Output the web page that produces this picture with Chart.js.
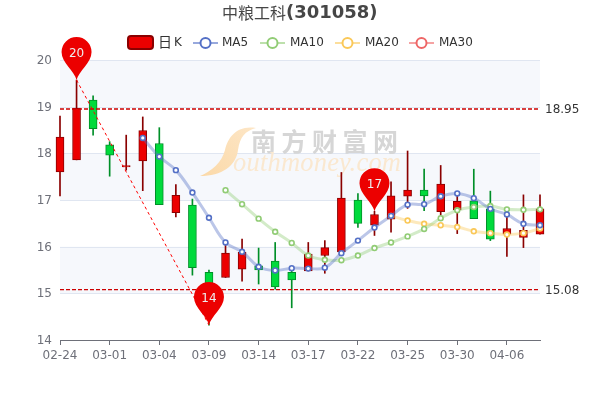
<!DOCTYPE html>
<html>
<head>
<meta charset="utf-8">
<style>
  html, body { margin: 0; padding: 0; background: #fff; }
  canvas { display: block; }
</style>
<script src="https://cdn.jsdelivr.net/npm/chart.js@4/dist/chart.umd.min.js"></script>
</head>
<body>
<canvas id="chart" width="600" height="400"></canvas>
<script>
const categories = ['02-24','02-25','02-28','03-01','03-02','03-03','03-04','03-07','03-08','03-09',
  '03-10','03-11','03-14','03-15','03-16','03-17','03-18','03-21','03-22','03-23',
  '03-24','03-25','03-28','03-29','03-30','03-31','04-01','04-06','04-07','04-08'];

const opens = [17.6,17.86,19.14,18.18,17.71,17.84,18.21,16.73,16.89,15.45,
  15.34,15.52,15.59,15.69,15.45,15.48,15.81,15.89,17.0,16.46,
  16.59,17.08,17.21,16.75,16.79,16.98,16.81,16.27,16.2,16.27];
const closes = [18.35,18.97,18.53,17.96,17.74,18.49,16.9,17.1,15.55,14.9,
  15.86,15.88,15.5,15.14,15.29,15.84,15.98,17.04,16.5,16.69,
  17.09,17.21,17.09,17.34,16.97,16.6,16.16,16.39,16.35,16.81];
const lows = [17.09,17.86,18.39,17.51,17.64,17.2,16.9,16.64,15.39,14.32,
  15.34,15.26,15.2,15.09,14.69,15.48,15.43,15.89,16.41,16.24,
  16.31,16.82,16.77,16.68,16.28,16.6,16.13,15.79,15.98,16.27];
const highs = [18.8,19.57,19.23,18.25,18.39,18.78,18.55,17.33,17.02,15.5,
  16.04,16.16,15.97,16.09,15.47,16.09,16.13,17.59,17.14,16.76,
  17.39,18.05,17.66,17.74,17.14,17.66,17.19,16.63,17.11,17.11];

const ma5 = [null,null,null,null,null,18.33,17.93,17.64,17.16,16.62,
  16.09,15.89,15.57,15.49,15.54,15.53,15.55,15.86,16.13,16.41,
  16.66,16.9,16.91,17.08,17.14,17.04,16.81,16.69,16.49,16.46];
const ma10 = [null,null,null,null,null,null,null,null,null,null,
  17.21,16.91,16.6,16.32,16.08,15.81,15.72,15.71,15.81,15.97,
  16.09,16.22,16.38,16.61,16.78,16.85,16.87,16.8,16.79,16.8];
const ma20 = [null,null,null,null,null,null,null,null,null,null,
  null,null,null,null,null,null,null,null,null,null,
  16.66,16.56,16.49,16.46,16.42,16.33,16.29,16.26,16.29,16.39];
const ma30 = categories.map(() => null);

const markLevels = [18.95, 15.08];
const trendIndex = [1, 9];
const trendValues = [19.57, 14.32];
const pinIndex = [1, 9, 19];
const pinValues = [19.57, 14.32, 16.76];
const pinTexts = ['20', '14', '17'];
const yTicks = [14, 15, 16, 17, 18, 19, 20];

const UP = '#ec0000', UP_DARK = '#8a0000', DOWN = '#00da3c', DOWN_DARK = '#008f28';
const isUp = i => closes[i] >= opens[i];
const fillColors = categories.map((c, i) => isUp(i) ? UP : DOWN);
const darkColors = categories.map((c, i) => isUp(i) ? UP_DARK : DOWN_DARK);

const MA_COLORS = { MA5: '#5470c6', MA10: '#91cc75', MA20: '#fac858', MA30: '#ee6666' };

function maDataset(name, values) {
  const color = MA_COLORS[name];
  return {
    type: 'line', label: name, data: values, order: 1,
    borderColor: color + '66', borderWidth: 3, tension: 0.4,
    pointRadius: 2.4, pointBorderWidth: 1.6, pointBorderColor: color,
    pointBackgroundColor: '#fff', clip: false,
  };
}

function markDataset(level) {
  return {
    type: 'line', data: categories.map(() => level), order: 3,
    borderColor: '#cc0000', borderWidth: 1.4, borderDash: [4, 2], pointRadius: 0,
  };
}

// bands behind the candles, and the faint site logo
const backdrop = {
  id: 'backdrop',
  beforeDatasetsDraw(chart) {
    const { ctx, chartArea, scales } = chart;
    const y = scales.y;
    ctx.save();
    ctx.fillStyle = '#f6f8fc';
    [[20, 19], [18, 17], [16, 15]].forEach(([a, b]) => {
      ctx.fillRect(chartArea.left, y.getPixelForValue(a), chartArea.width, y.getPixelForValue(b) - y.getPixelForValue(a));
    });
    // redraw grid on top of the bands
    ctx.strokeStyle = '#E0E6F1';
    ctx.lineWidth = 1;
    [15, 16, 17, 18, 19, 20].forEach(v => {
      const py = Math.round(y.getPixelForValue(v)) + 0.5;
      ctx.beginPath();
      ctx.moveTo(chartArea.left, py);
      ctx.lineTo(chartArea.right, py);
      ctx.stroke();
    });

    const grad = ctx.createLinearGradient(256, 128, 200, 176);
    grad.addColorStop(0, '#fde6c6');
    grad.addColorStop(1, '#fbd9a8');
    ctx.fillStyle = grad;
    ctx.beginPath();
    ctx.moveTo(256, 128);
    ctx.bezierCurveTo(236, 125, 228, 138, 225, 150);
    ctx.bezierCurveTo(222, 162, 212, 171, 200, 176);
    ctx.bezierCurveTo(222, 176, 236, 166, 238, 150);
    ctx.bezierCurveTo(240, 137, 245, 131, 256, 128);
    ctx.fill();

    ctx.fillStyle = '#d6d6d6';
    ctx.font = 'bold 25px "Noto Sans CJK SC"';
    ctx.textAlign = 'left';
    ctx.textBaseline = 'middle';
    Array.from('南方财富网').forEach((ch, i) => ctx.fillText(ch, 251 + i * 30.5, 141));

    ctx.fillStyle = '#fae8d0';
    ctx.font = 'italic 26.5px "Liberation Serif"';
    ctx.letterSpacing = '0.2px';
    ctx.textBaseline = 'alphabetic';
    ctx.fillText('outhmoney.com', 233, 171);
    ctx.restore();
  },
};

// title, legend and the three red pins
const overlay = {
  id: 'overlay',
  afterDatasetsDraw(chart) {
    const { ctx, scales } = chart;
    ctx.save();

    pinIndex.forEach((idx, i) => {
      const px = scales.x.getPixelForValue(idx);
      const tip = scales.y.getPixelForValue(pinValues[i]);
      const cy = tip - 28;
      ctx.fillStyle = '#ec0000';
      ctx.beginPath();
      ctx.moveTo(px, tip);
      ctx.bezierCurveTo(px - 2, tip - 9, px - 15, tip - 17, px - 15, cy);
      ctx.arc(px, cy, 15, Math.PI, 0);
      ctx.bezierCurveTo(px + 15, tip - 17, px + 2, tip - 9, px, tip);
      ctx.fill();
      ctx.fillStyle = '#eee';
      ctx.font = '12px "DejaVu Sans"';
      ctx.textAlign = 'center';
      ctx.textBaseline = 'middle';
      ctx.fillText(pinTexts[i], px, cy + 2);
    });

    // title
    ctx.textAlign = 'left';
    ctx.textBaseline = 'middle';
    ctx.fillStyle = '#464646';
    ctx.font = '16px "Noto Sans CJK SC"';
    ctx.fillText('中粮工科', 222, 13);
    ctx.font = 'bold 18px "DejaVu Sans"';
    ctx.fillText('(301058)', 286, 13);

    // legend
    ctx.fillStyle = UP;
    ctx.strokeStyle = UP_DARK;
    ctx.lineWidth = 2;
    ctx.beginPath();
    ctx.roundRect(128, 36, 25, 13, 3);
    ctx.fill();
    ctx.stroke();
    ctx.fillStyle = '#333';
    ctx.font = '14px "Noto Sans CJK SC"';
    ctx.fillText('日', 158, 42);
    ctx.font = '12px "DejaVu Sans"';
    ctx.fillText('K', 174, 43);

    [['MA5', 193, 222], ['MA10', 260, 290], ['MA20', 335, 365], ['MA30', 409, 439]].forEach(([name, x0, tx]) => {
      const color = MA_COLORS[name];
      ctx.strokeStyle = color + '99';
      ctx.lineWidth = 2;
      ctx.beginPath();
      ctx.moveTo(x0, 43);
      ctx.lineTo(x0 + 25, 43);
      ctx.stroke();
      ctx.strokeStyle = color;
      ctx.fillStyle = '#fff';
      ctx.beginPath();
      ctx.arc(x0 + 12.5, 43, 5, 0, Math.PI * 2);
      ctx.fill();
      ctx.stroke();
      ctx.fillStyle = '#333';
      ctx.fillText(name, tx, 43);
    });
    ctx.restore();
  },
};

new Chart(document.getElementById('chart').getContext('2d'), {
  data: {
    labels: categories,
    datasets: [
      // wicks
      { type: 'bar', data: categories.map((c, i) => [lows[i], highs[i]]), order: 5, grouped: false,
        barThickness: 1, backgroundColor: darkColors, borderWidth: 0, clip: false },
      // bodies
      { type: 'bar', data: categories.map((c, i) => [opens[i], closes[i]]), order: 4, grouped: false,
        barThickness: 8, backgroundColor: fillColors, borderColor: darkColors, borderWidth: 1,
        borderSkipped: false, clip: false },
      markDataset(markLevels[0]),
      markDataset(markLevels[1]),
      { type: 'line', data: categories.map((c, i) => {
          const k = trendIndex.indexOf(i);
          return k < 0 ? null : trendValues[k];
        }), order: 2, spanGaps: true, borderColor: '#ff0000', borderWidth: 1, borderDash: [3, 3], pointRadius: 0 },
      maDataset('MA5', ma5),
      maDataset('MA10', ma10),
      maDataset('MA20', ma20),
      maDataset('MA30', ma30),
    ],
  },
  options: {
    responsive: false,
    animation: false,
    layout: { padding: { top: 60 } },
    plugins: { legend: { display: false }, tooltip: { enabled: false } },
    scales: {
      x: {
        offset: false,
        afterFit: s => { s.height = 60; },
        grid: {
          offset: false, drawOnChartArea: false, tickLength: 5,
          tickColor: c => (c.index % 3 === 0 ? '#6E7079' : 'transparent'),
        },
        border: { color: '#6E7079' },
        ticks: {
          autoSkip: false, maxRotation: 0, padding: 4, color: '#6E7079',
          font: { family: 'DejaVu Sans', size: 12 },
          callback(v, i) { return i % 3 === 0 ? categories[i] : ''; },
        },
      },
      y: {
        min: 14, max: 20,
        afterFit: s => { s.width = 60; },
        afterBuildTicks: s => { s.ticks = yTicks.map(value => ({ value })); },
        grid: { display: false, drawTicks: false },
        border: { display: false },
        ticks: { padding: 8, labelOffset: 1, color: '#6E7079', font: { family: 'DejaVu Sans', size: 12 } },
      },
      // right axis only carries the two mark line labels
      y1: {
        position: 'right', min: 14, max: 20,
        afterFit: s => { s.width = 60; },
        afterBuildTicks: s => { s.ticks = markLevels.map(value => ({ value })); },
        grid: { display: false, drawTicks: false },
        border: { display: false },
        ticks: { padding: 5, labelOffset: 1, color: '#333', font: { family: 'DejaVu Sans', size: 12 },
          callback: v => v.toFixed(2) },
      },
    },
  },
  plugins: [backdrop, overlay],
});
</script>
</body>
</html>
